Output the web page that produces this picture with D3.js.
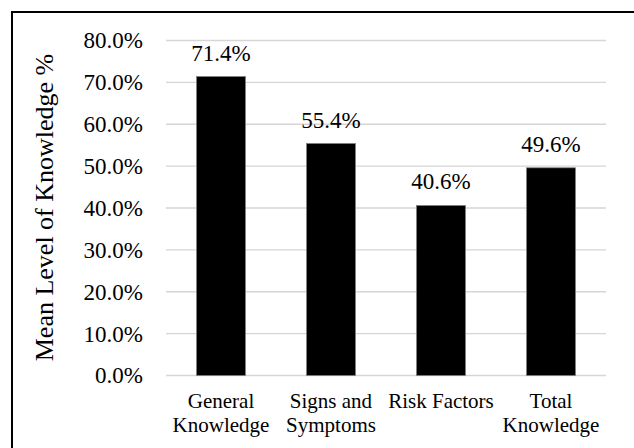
<!DOCTYPE html>
<html>
<head>
<meta charset="utf-8">
<script src="https://cdn.jsdelivr.net/npm/d3@7"></script>
<style>
  body { margin: 0; background: #fff; }
  svg text { font-family: "Liberation Serif", "Times New Roman", serif; fill: #000; }
</style>
</head>
<body>
<div id="chart"></div>
<script>
const categories = [["General", "Knowledge"], ["Signs and", "Symptoms"], ["Risk Factors"], ["Total", "Knowledge"]];
const values = [71.4, 55.4, 40.6, 49.6];
const yTicks = [0, 10, 20, 30, 40, 50, 60, 70, 80];

const width = 634, height = 448;
const margin = { top: 40.5, right: 28, bottom: 72.5, left: 166 };
const serif = "'Liberation Serif', 'Times New Roman', serif";

const svg = d3.select("#chart").append("svg")
    .attr("width", width)
    .attr("height", height);

// outer frame (runs off the right and bottom edges)
svg.append("rect")
    .attr("x", 12).attr("y", 12)
    .attr("width", 700).attr("height", 500)
    .attr("fill", "none")
    .attr("stroke", "#000")
    .attr("stroke-width", 2);

const x = d3.scaleBand()
    .domain(d3.range(values.length))
    .range([margin.left, width - margin.right])
    .paddingInner(0.555)
    .paddingOuter(0.2775);

const y = d3.scaleLinear()
    .domain([0, 80])
    .range([height - margin.bottom, margin.top]);

// gridlines
svg.append("g")
    .selectAll("line")
    .data(yTicks)
    .enter().append("line")
    .attr("x1", margin.left)
    .attr("x2", width - margin.right)
    .attr("y1", d => y(d))
    .attr("y2", d => y(d))
    .attr("stroke", "#d6d6d6")
    .attr("stroke-width", 1.4);

// y axis labels
const yAxis = svg.append("g")
    .attr("transform", `translate(${margin.left - 23},0)`)
    .call(d3.axisLeft(y).tickValues(yTicks).tickSize(0).tickPadding(0)
        .tickFormat(d => d3.format(".1f")(d) + "%"));
yAxis.attr("font-family", null).attr("font-size", null);
yAxis.select(".domain").remove();
yAxis.selectAll("text")
    .style("font-family", serif)
    .style("font-size", "23px")
    .attr("dy", "0.32em");

// bars
svg.append("g")
    .selectAll("rect")
    .data(values)
    .enter().append("rect")
    .attr("x", (d, i) => x(i))
    .attr("y", d => y(d))
    .attr("width", x.bandwidth())
    .attr("height", d => y(0) - y(d))
    .attr("fill", "#000")
    .attr("stroke", "#7f7f7f")
    .attr("stroke-width", 0.75);

// value labels
svg.append("g")
    .selectAll("text")
    .data(values)
    .enter().append("text")
    .attr("x", (d, i) => x(i) + x.bandwidth() / 2)
    .attr("y", d => y(d) - 16)
    .attr("text-anchor", "middle")
    .style("font-family", serif)
    .style("font-size", "23px")
    .text(d => d3.format(".1f")(d) + "%");

// category labels
const cat = svg.append("g")
    .selectAll("text")
    .data(categories)
    .enter().append("text")
    .attr("x", (d, i) => x(i) + x.bandwidth() / 2)
    .attr("y", 408)
    .attr("text-anchor", "middle")
    .style("font-family", serif)
    .style("font-size", "21px");
cat.selectAll("tspan")
    .data(d => d)
    .enter().append("tspan")
    .attr("x", function () { return d3.select(this.parentNode).attr("x"); })
    .attr("dy", (d, i) => i === 0 ? 0 : 24)
    .text(d => d);

// y axis title
svg.append("text")
    .attr("transform", `translate(53,${207.5}) rotate(-90)`)
    .attr("text-anchor", "middle")
    .style("font-family", serif)
    .style("font-size", "26px")
    .text("Mean Level of Knowledge %");
</script>
</body>
</html>
